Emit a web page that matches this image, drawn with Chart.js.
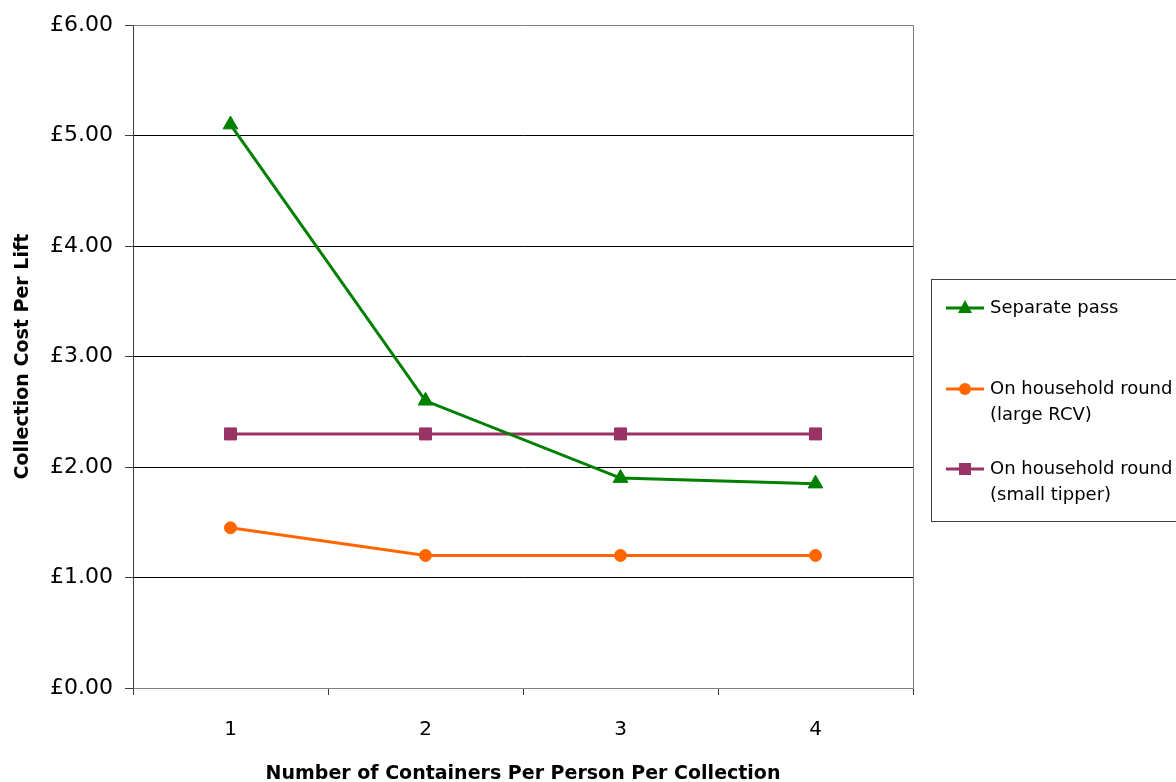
<!DOCTYPE html>
<html>
<head>
<meta charset="utf-8">
<script src="https://cdn.jsdelivr.net/npm/chart.js@4/dist/chart.umd.min.js"></script>
<style>
  html, body { margin: 0; padding: 0; background: #fff; }
  #wrap { width: 1176px; height: 782px; position: relative; }
</style>
</head>
<body>
<div id="wrap"><canvas id="myChart"></canvas></div>
<script>
// data
var categories = ["1", "2", "3", "4"];
var separatePass = [5.10, 2.60, 1.90, 1.85];
var largeRcv = [1.45, 1.20, 1.20, 1.20];
var smallTipper = [2.30, 2.30, 2.30, 2.30];
var seriesLabels = [
  ["Separate pass"],
  ["On household round", "(large RCV)"],
  ["On household round", "(small tipper)"]
];
var yTicks = [0, 1, 2, 3, 4, 5, 6];

var FONT = "'DejaVu Sans', sans-serif";

// boxed legend on the right, like the original
var boxLegend = {
  id: "boxLegend",
  afterDraw: function (chart) {
    var ctx = chart.ctx;
    ctx.save();
    ctx.strokeStyle = "#404040";
    ctx.lineWidth = 1;
    ctx.strokeRect(931.5, 279.5, 260, 242);
    var rows = [308, 389, 469];
    chart.data.datasets.forEach(function (ds, i) {
      var y = rows[i];
      ctx.strokeStyle = ds.borderColor;
      ctx.lineWidth = 3;
      ctx.beginPath();
      ctx.moveTo(946, y);
      ctx.lineTo(984, y);
      ctx.stroke();
      ctx.fillStyle = ds.pointBackgroundColor;
      ctx.beginPath();
      if (ds.pointStyle === "triangle") {
        ctx.moveTo(965, y - 8);
        ctx.lineTo(972, y + 5);
        ctx.lineTo(958, y + 5);
        ctx.closePath();
      } else if (ds.pointStyle === "rect") {
        ctx.rect(959, y - 6, 12, 12);
      } else {
        ctx.arc(965, y, 6, 0, Math.PI * 2);
      }
      ctx.fill();
      ctx.fillStyle = "#000";
      ctx.font = "18px " + FONT;
      ctx.textBaseline = "middle";
      ctx.textAlign = "left";
      seriesLabels[i].forEach(function (line, k) {
        ctx.fillText(line, 990, y + k * 26);
      });
    });
    // right border of plot area
    var a = chart.chartArea;
    ctx.strokeStyle = "#808080";
    ctx.lineWidth = 1;
    ctx.beginPath();
    ctx.moveTo(a.right + 0.5, a.top);
    ctx.lineTo(a.right + 0.5, a.bottom);
    ctx.stroke();
    ctx.restore();
  }
};

var ctx = document.getElementById("myChart").getContext("2d");
var chart = new Chart(ctx, {
  type: "line",
  data: {
    labels: categories,
    datasets: [
      {
        label: "Separate pass",
        data: separatePass,
        borderColor: "#008000",
        backgroundColor: "#008000",
        pointBackgroundColor: "#008000",
        pointBorderColor: "#008000",
        pointStyle: "triangle",
        pointRadius: 8.5,
        pointBorderWidth: 1,
        borderWidth: 3,
        tension: 0
      },
      {
        label: "On household round (large RCV)",
        data: largeRcv,
        borderColor: "#ff6600",
        backgroundColor: "#ff6600",
        pointBackgroundColor: "#ff6600",
        pointBorderColor: "#ff6600",
        pointStyle: "circle",
        pointRadius: 6,
        pointBorderWidth: 1,
        borderWidth: 3,
        tension: 0
      },
      {
        label: "On household round (small tipper)",
        data: smallTipper,
        borderColor: "#993366",
        backgroundColor: "#993366",
        pointBackgroundColor: "#993366",
        pointBorderColor: "#993366",
        pointStyle: "rect",
        pointRadius: 8.5,
        pointBorderWidth: 1,
        borderWidth: 3,
        tension: 0
      }
    ]
  },
  options: {
    responsive: true,
    maintainAspectRatio: false,
    animation: false,
    layout: { padding: { top: 25, right: 263, left: 0, bottom: 0 } },
    plugins: {
      legend: { display: false },
      tooltip: { enabled: false }
    },
    scales: {
      x: {
        offset: true,
        grid: {
          offset: true,
          drawOnChartArea: false,
          drawTicks: true,
          tickLength: 7,
          color: "#404040"
        },
        border: { color: "#808080" },
        ticks: { color: "#000", font: { family: FONT, size: 20 }, padding: 23 },
        title: {
          display: true,
          text: "Number of Containers Per Person Per Collection",
          color: "#000",
          font: { family: FONT, size: 19, weight: "bold" },
          padding: { top: 14, bottom: -3 }
        },
        afterFit: function (s) { s.height = 94; }
      },
      y: {
        min: 0,
        max: 6,
        afterBuildTicks: function (s) {
          s.ticks = yTicks.map(function (v) { return { value: v }; });
        },
        grid: {
          color: function (c) {
            var v = c.tick ? c.tick.value : 0;
            return v === 0 || v === 6 ? "#808080" : "#000";
          },
          tickLength: 8,
          tickColor: "#404040"
        },
        border: { color: "#404040" },
        ticks: {
          color: "#000",
          font: { family: FONT, size: 22 },
          padding: 12,
          callback: function (v) { return "£" + Number(v).toFixed(2); }
        },
        title: {
          display: true,
          text: "Collection Cost Per Lift",
          color: "#000",
          font: { family: FONT, size: 19, weight: "bold" },
          padding: { top: 12, bottom: 10 }
        },
        afterFit: function (s) { s.width = 133; }
      }
    }
  },
  plugins: [boxLegend]
});
</script>
</body>
</html>
